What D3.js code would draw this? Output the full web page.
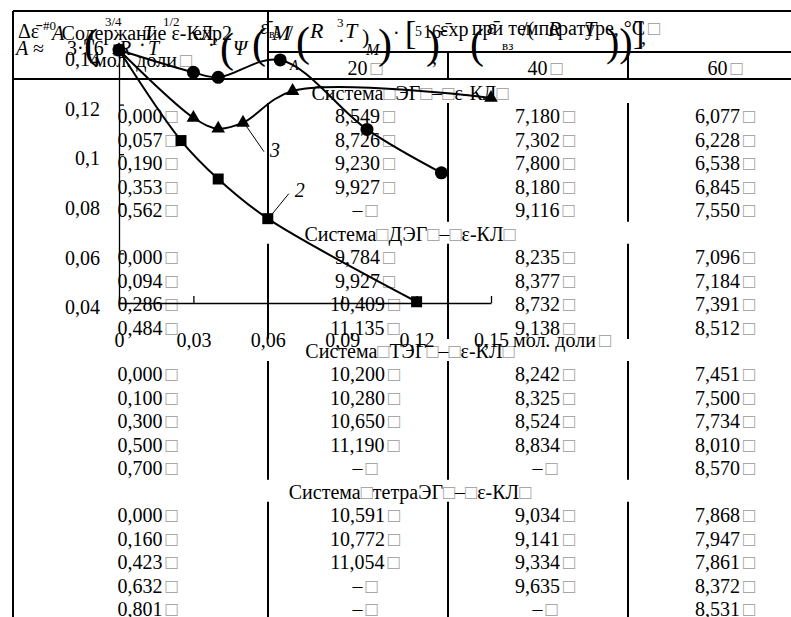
<!DOCTYPE html>
<html>
<head>
<meta charset="utf-8">
<script src="https://cdn.jsdelivr.net/npm/d3@7"></script>
<style>
body { margin: 0; background: #fff; }
text { font-family: "Liberation Serif", "Times New Roman", serif; }
</style>
</head>
<body>
<div id="chart-area"></div>
<script>
// table data: mole fraction of e-CL and the values at 20, 40, 60 °C (null = "–")
const sysNames = ["ЭГ", "ДЭГ", "ТЭГ", "тетраЭГ"];
const molFrac = [
	[0.000, 0.057, 0.190, 0.353, 0.562],
	[0.000, 0.094, 0.286, 0.484],
	[0.000, 0.100, 0.300, 0.500, 0.700],
	[0.000, 0.160, 0.423, 0.632, 0.801]
];
const val20 = [
	[8.549, 8.726, 9.230, 9.927, null],
	[9.784, 9.927, 10.409, 11.135],
	[10.200, 10.280, 10.650, 11.190, null],
	[10.591, 10.772, 11.054, null, null]
];
const val40 = [
	[7.180, 7.302, 7.800, 8.180, 9.116],
	[8.235, 8.377, 8.732, 9.138],
	[8.242, 8.325, 8.524, 8.834, null],
	[9.034, 9.141, 9.334, 9.635, null]
];
const val60 = [
	[6.077, 6.228, 6.538, 6.845, 7.550],
	[7.096, 7.184, 7.391, 8.512],
	[7.451, 7.500, 7.734, 8.010, 8.570],
	[7.868, 7.947, 7.861, 8.372, 8.531]
];
const temps = [20, 40, 60];

// chart data
const xTicks = [0, 0.03, 0.06, 0.09, 0.12, 0.15];
const yTicks = [0.04, 0.06, 0.08, 0.1, 0.12, 0.14];
const circX = [0, 0.03, 0.04, 0.065, 0.10, 0.13];
const circY = [0.142, 0.133, 0.131, 0.138, 0.110, 0.0925];
const triX = [0, 0.03, 0.04, 0.05, 0.07, 0.15];
const triY = [0.142, 0.1147, 0.1103, 0.1127, 0.1255, 0.1227];
const sqX = [0, 0.025, 0.04, 0.06, 0.12];
const sqY = [0.142, 0.1055, 0.090, 0.074, 0.0405];

const loc = d3.formatLocale({decimal: ",", thousands: " ", grouping: [3], currency: ["", ""]});
const f3 = loc.format(".3f");
const fTick = loc.format("~g");

let svg = d3.select("#chart-area").append("svg")
	.attr("width", 791)
	.attr("height", 617)
	.style("background", "#fff");

// ---------- table ----------
const colEdges = [13, 268, 448, 628, 808];
const cellShift = 7;
const tbl = svg.append("g").attr("stroke", "#000").attr("stroke-width", 2);

function hline(x1, x2, y) { tbl.append("line").attr("x1", x1).attr("x2", x2).attr("y1", y).attr("y2", y); }
function vline(x, y1, y2) { tbl.append("line").attr("x1", x).attr("x2", x).attr("y1", y1).attr("y2", y2); }

hline(13, 808, 11);
hline(268, 808, 52);
hline(13, 808, 79);
vline(13, 11, 617);
vline(268, 11, 79);
vline(448, 52, 79);
vline(628, 52, 79);

const txt = svg.append("g").attr("font-size", 20).attr("fill", "#000");

function cell(x, y, s, anchor) {
	let t = txt.append("text").attr("x", x).attr("y", y).attr("text-anchor", anchor || "middle");
	t.append("tspan").text(s);
	t.append("tspan").attr("dx", 3).attr("fill", "#9a9a9a").text("□");
	return t;
}

// header
txt.append("text").attr("x", 140).attr("y", 40).attr("text-anchor", "middle").text("Содержание ε-КЛ,");
cell(143, 67, "мол. доли");
cell(566, 35, "при температуре, °С");
temps.forEach((t, i) => cell((colEdges[i + 1] + colEdges[i + 2]) / 2 + cellShift, 75, String(t)));

// rows
let lineIdx = 0;
const rowY = d3.scaleLinear().domain([0, 22]).range([93, 609]);
const headerYs = [];
sysNames.forEach((name, s) => {
	const hy = rowY(lineIdx);
	headerYs.push(hy);
	let h = txt.append("text").attr("x", 410).attr("y", hy + 7).attr("text-anchor", "middle");
	h.append("tspan").text("Система");
	h.append("tspan").attr("fill", "#9a9a9a").text("□");
	h.append("tspan").text(name);
	h.append("tspan").attr("fill", "#9a9a9a").text("□");
	h.append("tspan").text("–");
	h.append("tspan").attr("fill", "#9a9a9a").text("□");
	h.append("tspan").text("ε-КЛ");
	h.append("tspan").attr("fill", "#9a9a9a").text("□");
	lineIdx++;
	molFrac[s].forEach((m, r) => {
		const y = rowY(lineIdx) + 7;
		const cols = [m, val20[s][r], val40[s][r], val60[s][r]];
		cols.forEach((v, c) => {
			const cx = (colEdges[c] + colEdges[c + 1]) / 2 + cellShift;
			cell(cx, y, v == null ? "–" : f3(v));
		});
		lineIdx++;
	});
});
headerYs.forEach((hy, i) => {
	const end = i < headerYs.length - 1 ? headerYs[i + 1] - 12 : 617;
	[268, 448, 628].forEach(x => vline(x, hy + 10, end));
});

// ---------- formula overlay ----------
const formulaBits = [
	{t: "Δε̄", x: 18, y: 38, s: 20, i: 0},
	{t: "#0", x: 43, y: 30, s: 13, i: 0},
	{t: "A", x: 52, y: 40, s: 20, i: 1},
	{t: "(", x: 84, y: 58, s: 42, i: 0},
	{t: "3/4", x: 105, y: 26, s: 13, i: 0},
	{t: "T", x: 143, y: 40, s: 20, i: 1},
	{t: "1/2", x: 163, y: 26, s: 13, i: 0},
	{t: "exp2", x: 193, y: 40, s: 20, i: 0},
	{t: "(", x: 252, y: 58, s: 42, i: 0},
	{t: "A", x: 16, y: 55, s: 20, i: 1},
	{t: "≈", x: 33, y: 55, s: 20, i: 0},
	{t: "3·16", x: 67, y: 55, s: 20, i: 0},
	{t: "R", x: 119, y: 55, s: 20, i: 1},
	{t: "·", x: 139, y: 52, s: 20, i: 0},
	{t: "T", x: 148, y: 55, s: 20, i: 1},
	{t: "·", x: 208, y: 52, s: 20, i: 0},
	{t: "(", x: 220, y: 62, s: 42, i: 0},
	{t: "Ψ", x: 233, y: 55, s: 20, i: 1},
	{t: "ε̄", x: 260, y: 34, s: 20, i: 1},
	{t: "вз", x: 269, y: 38, s: 12, i: 0},
	{t: "M", x: 272, y: 40, s: 22, i: 1},
	{t: "/", x: 287, y: 40, s: 22, i: 0},
	{t: "(", x: 296, y: 56, s: 42, i: 0},
	{t: "R", x: 310, y: 38, s: 22, i: 1},
	{t: "3", x: 337, y: 27, s: 13, i: 0},
	{t: "·", x: 338, y: 48, s: 20, i: 0},
	{t: "T", x: 345, y: 38, s: 22, i: 1},
	{t: ")", x: 362, y: 44, s: 22, i: 0},
	{t: "M", x: 366, y: 55, s: 16, i: 1},
	{t: ")", x: 378, y: 58, s: 42, i: 0},
	{t: "A", x: 290, y: 70, s: 14, i: 1},
	{t: "·", x: 393, y: 40, s: 20, i: 0},
	{t: "[", x: 405, y: 44, s: 34, i: 0},
	{t: "5", x: 415, y: 36, s: 14, i: 0},
	{t: "16", x: 423, y: 38, s: 18, i: 0},
	{t: "–", x: 438, y: 36, s: 18, i: 0},
	{t: ")", x: 426, y: 58, s: 42, i: 0},
	{t: ",", x: 432, y: 64, s: 20, i: 0},
	{t: "ε̄xp", x: 440, y: 36, s: 20, i: 0},
	{t: "(", x: 470, y: 58, s: 42, i: 0},
	{t: "ε̄", x: 487, y: 34, s: 20, i: 1},
	{t: "вз", x: 502, y: 50, s: 13, i: 0},
	{t: "/(", x: 522, y: 36, s: 20, i: 0},
	{t: "R", x: 548, y: 36, s: 22, i: 1},
	{t: "T", x: 584, y: 36, s: 22, i: 1},
	{t: "))", x: 606, y: 56, s: 40, i: 0},
	{t: "]", x: 633, y: 44, s: 34, i: 0},
	{t: ",", x: 641, y: 44, s: 20, i: 0}
];
const fg = svg.append("g").attr("fill", "#000");
formulaBits.forEach(b => {
	fg.append("text")
		.attr("x", b.x).attr("y", b.y)
		.attr("font-size", b.s)
		.attr("font-style", b.i ? "italic" : "normal")
		.text(b.t);
});

// ---------- chart ----------
const x = d3.scaleLinear().domain([0, 0.15]).range([119, 491]);
const y = d3.scaleLinear().domain([0.04, 0.14]).range([303, 55]);

let yAxis = svg.append("g")
	.attr("transform", "translate(" + x(0) + ",0)")
	.call(d3.axisLeft(y).tickValues(yTicks).tickFormat(fTick)
		.tickSizeInner(-5).tickSizeOuter(0).tickPadding(19));
let xAxis = svg.append("g")
	.attr("transform", "translate(0," + y(0.04) + ")")
	.call(d3.axisBottom(x).tickValues(xTicks).tickFormat(fTick)
		.tickSizeInner(-7).tickSizeOuter(0).tickPadding(30));

[xAxis, yAxis].forEach(a => {
	a.attr("font-family", null).attr("font-size", null);
	a.selectAll("path, line").attr("stroke", "#000").attr("stroke-width", 1.3);
	a.selectAll("text").attr("font-size", 20).attr("fill", "#000");
});
yAxis.selectAll("text").attr("dy", "0.53em");

svg.append("text")
	.attr("x", x(0.15) + 22).attr("y", y(0.04) + 44)
	.attr("font-size", 20)
	.call(t => {
		t.append("tspan").text("мол. доли");
		t.append("tspan").attr("dx", 3).attr("fill", "#9a9a9a").text("□");
	});

const line = d3.line()
	.x(d => x(d[0]))
	.y(d => y(d[1]))
	.curve(d3.curveCatmullRom.alpha(0.5));

const series = [
	{xs: circX, ys: circY, sym: d3.symbolCircle, size: 133},
	{xs: triX, ys: triY, sym: d3.symbolTriangle, size: 80},
	{xs: sqX, ys: sqY, sym: d3.symbolSquare, size: 121}
];

series.forEach(s => {
	const pts = s.xs.map((v, i) => [v, s.ys[i]]);
	svg.append("path")
		.attr("d", line(pts))
		.attr("fill", "none")
		.attr("stroke", "#000")
		.attr("stroke-width", 2);
});
series.forEach(s => {
	const pts = s.xs.map((v, i) => [v, s.ys[i]]);
	svg.selectAll(null)
		.data(pts)
		.enter().append("path")
		.attr("d", d3.symbol().type(s.sym).size(s.size))
		.attr("transform", d => "translate(" + x(d[0]) + "," + y(d[1]) + ")")
		.attr("fill", "#000");
});

// curve labels with leader lines
const labels = [
	{name: "3", px: triX[3], py: triY[3], dx: 20, dy: 26},
	{name: "2", px: sqX[3], py: sqY[3], dx: 20, dy: -22}
];
labels.forEach(l => {
	const x0 = x(l.px) + 3, y0 = y(l.py) + (l.dy > 0 ? 3 : -3);
	svg.append("line")
		.attr("x1", x0).attr("y1", y0)
		.attr("x2", x0 + l.dx - 2).attr("y2", y0 + l.dy)
		.attr("stroke", "#000").attr("stroke-width", 1);
	svg.append("text")
		.attr("x", x0 + l.dx + 4)
		.attr("y", y0 + l.dy + (l.dy > 0 ? 5 : 3))
		.attr("font-size", 20).attr("font-style", "italic")
		.text(l.name);
});
</script>
</body>
</html>
